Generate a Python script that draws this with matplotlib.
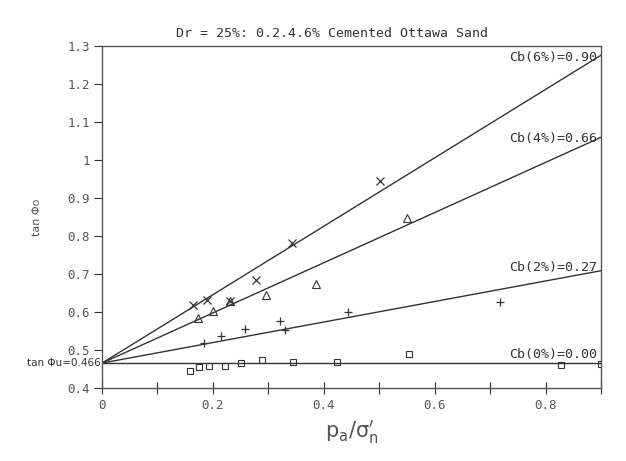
import numpy as np
import matplotlib
matplotlib.use("Agg")
import matplotlib.pyplot as plt

# intercept and slopes of the fitted lines
tan_phi_u = 0.466
cb_labels = ["Cb(6%)=0.90", "Cb(4%)=0.66", "Cb(2%)=0.27", "Cb(0%)=0.00"]
cb_values = [0.90, 0.66, 0.27, 0.00]

x_6 = [0.164, 0.190, 0.231, 0.277, 0.343, 0.501]
y_6 = [0.618, 0.632, 0.629, 0.684, 0.783, 0.945]

x_4 = [0.173, 0.200, 0.231, 0.295, 0.386, 0.550]
y_4 = [0.585, 0.604, 0.629, 0.645, 0.674, 0.849]

x_2 = [0.184, 0.215, 0.257, 0.321, 0.330, 0.444, 0.718]
y_2 = [0.518, 0.537, 0.555, 0.576, 0.552, 0.601, 0.628]

x_0 = [0.158, 0.175, 0.193, 0.221, 0.251, 0.289, 0.345, 0.424, 0.554, 0.828, 0.900]
y_0 = [0.445, 0.456, 0.459, 0.459, 0.466, 0.475, 0.470, 0.468, 0.489, 0.462, 0.464]

ink = "#333333"
mono = "DejaVu Sans Mono"

fig = plt.figure(figsize=(6.26, 4.61), dpi=100)
ax = fig.add_axes([0.163, 0.158, 0.797, 0.742])

xx = np.array([0.0, 0.9])
for cb in cb_values:
    ax.plot(xx, tan_phi_u + cb * xx, color=ink, lw=1.0)

ax.plot(x_6, y_6, "x", ms=6, mew=0.9, color=ink, ls="none")
ax.plot(x_4, y_4, "^", ms=5.5, mew=0.8, mfc="none", color=ink, ls="none")
ax.plot(x_2, y_2, "+", ms=6, mew=0.9, color=ink, ls="none")
ax.plot(x_0, y_0, "s", ms=5, mew=0.8, mfc="none", color=ink, ls="none")

# line labels sit near the right edge; small nudges so they read like the original
nudges = [-2, -1, 2, 6]
for lab, cb, dy in zip(cb_labels, cb_values, nudges):
    ax.annotate(lab, xy=(0.9, tan_phi_u + cb * 0.9), xytext=(-3, dy),
                textcoords="offset points", ha="right", va="center",
                fontsize=9.5, family=mono, color=ink)

ax.set_xlim(0, 0.9)
ax.set_ylim(0.4, 1.3)
ax.set_xticks(np.arange(0, 0.91, 0.1))
ax.set_xticklabels(["0", "", "0.2", "", "0.4", "", "0.6", "", "0.8", ""])
ax.set_yticks(np.arange(0.4, 1.31, 0.1))
ax.set_yticklabels(["0.4", "0.5", "0.6", "0.7", "0.8", "0.9", "1", "1.1", "1.2", "1.3"])
ax.tick_params(axis="x", direction="inout", length=8, width=0.8, colors=ink,
               labelsize=9, pad=4)
ax.tick_params(axis="y", direction="out", length=6, width=0.8, colors=ink,
               labelsize=9, pad=3)
for t in ax.get_xticklabels() + ax.get_yticklabels():
    t.set_family(mono)
    t.set_color("#555555")
for s in ax.spines.values():
    s.set_color("#555555")
    s.set_linewidth(1.0)

ax.text(-0.003, tan_phi_u, "tan \u03A6u=0.466", transform=ax.transData,
        ha="right", va="center", fontsize=7.5, color=ink)

ax.set_ylabel("tan \u03A6o", fontsize=8, color="#555555", labelpad=18)
ax.set_xlabel(r"$\mathrm{p_a/\sigma_n'}$", fontsize=15, color="#555555", labelpad=4)

fig.text(332 / 626, 1 - 33 / 461, "Dr = 25%: 0.2.4.6% Cemented Ottawa Sand",
         ha="center", va="center", fontsize=9.5, family=mono, color=ink)

fig.savefig("out.png", dpi=100)
